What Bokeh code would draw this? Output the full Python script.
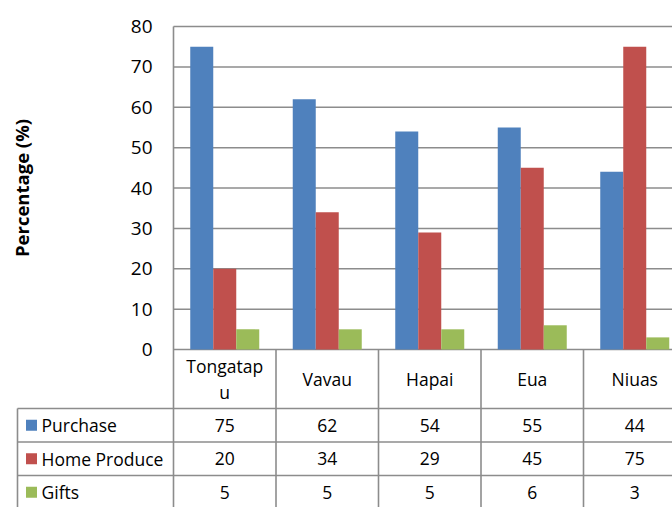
import math
from bokeh.plotting import figure
from bokeh.models import Range1d
from bokeh.embed import file_html
from bokeh.resources import INLINE
from bokeh.core.properties import value

# ---- data ----
regions = ["Tongatapu", "Vavau", "Hapai", "Eua", "Niuas"]
header_labels = ["Tongatap\nu", "Vavau", "Hapai", "Eua", "Niuas"]
series_names = ["Purchase", "Home Produce", "Gifts"]
purchase = [75, 62, 54, 55, 44]
home_produce = [20, 34, 29, 45, 75]
gifts = [5, 5, 5, 6, 3]
y_ticks = [0, 10, 20, 30, 40, 50, 60, 70, 80]
y_title = "Percentage (%)"

series_values = [purchase, home_produce, gifts]
colors = ["#4F81BD", "#C0504D", "#9BBB59"]

# ---- layout constants (pixels) ----
FONT = "Open Sans"
W, H = 672, 507
CHART_LEFT = 173      # left edge of plot area
CHART_TOP = 26        # pixel row of the top tick
BASE = 349            # pixel row of the zero line
CAT_PX = 102.5        # width of one category slot
BAR_PX = 23
LINE_COLOR = "#8c8c8c"
Y_MAX = 80

px_per_unit = (BASE - CHART_TOP) / Y_MAX
x_end = (W - CHART_LEFT) / CAT_PX
bar_w = BAR_PX / CAT_PX


def xp(px):
    """horizontal pixel -> data x"""
    return (px - CHART_LEFT) / CAT_PX


def yb(px):
    """pixels below the zero line -> data y"""
    return -px / px_per_unit


p = figure(width=W, height=H, title=None,
           x_range=Range1d(xp(0), x_end),
           y_range=Range1d(yb(H - BASE), Y_MAX + CHART_TOP / px_per_unit),
           output_backend="svg", toolbar_location=None,
           x_axis_location=None, y_axis_location=None, min_border=0)
p.outline_line_color = None
p.xgrid.visible = False
p.ygrid.visible = False
p.background_fill_color = "white"
p.border_fill_color = "white"

n = len(regions)

# horizontal gridlines (the top one closes the plot area)
p.segment(x0=[0] * len(y_ticks), x1=[x_end] * len(y_ticks), y0=y_ticks, y1=y_ticks,
          line_color=LINE_COLOR, line_width=1.5)

# value axis labels and title
p.text(x=[xp(152)] * len(y_ticks), y=y_ticks, text=[str(v) for v in y_ticks],
       text_align="right", text_baseline="middle",
       text_font=value(FONT), text_font_size="19px", text_color="black")
p.text(x=[xp(21)], y=[Y_MAX / 2], text=[y_title], angle=math.pi / 2,
       text_align="center", text_baseline="middle",
       text_font=value(FONT), text_font_style="bold",
       text_font_size="18.5px", text_color="black")

# bars
for k, (vals, col) in enumerate(zip(series_values, colors)):
    xs = [i + 0.5 + (k - 1) * bar_w for i in range(n)]
    p.vbar(x=xs, top=vals, bottom=0, width=bar_w,
           fill_color=col, line_color=None)

# ---- data table under the plot area ----
HEADER_H = 59
ROW_H = 33.5
LEGEND_LEFT = xp(17)
row_tops = [HEADER_H + r * ROW_H for r in range(len(series_names))]

# table rules
hx0 = [LEGEND_LEFT] * len(row_tops)
p.segment(x0=hx0, x1=[x_end] * len(row_tops),
          y0=[yb(v) for v in row_tops], y1=[yb(v) for v in row_tops],
          line_color=LINE_COLOR, line_width=1.6)
vx = list(range(n)) + [LEGEND_LEFT]
vy0 = [Y_MAX] + [0] * (n - 1) + [yb(HEADER_H)]
p.segment(x0=vx, x1=vx, y0=vy0, y1=[yb(H - BASE)] * len(vx),
          line_color=LINE_COLOR, line_width=1.6)

# header row: region names
p.text(x=[i + 0.5 for i in range(n)], y=[yb(HEADER_H / 2)] * n, text=header_labels,
       text_align="center", text_baseline="middle",
       text_font=value(FONT), text_font_size="17.5px", text_color="black",
       text_line_height=1.08)

# value rows with legend keys
for r, (name, vals, col) in enumerate(zip(series_names, series_values, colors)):
    yc = yb(row_tops[r] + ROW_H / 2)
    p.text(x=[i + 0.5 for i in range(n)], y=[yc] * n, text=[str(v) for v in vals],
           text_align="center", text_baseline="middle",
           text_font=value(FONT), text_font_size="17.5px", text_color="black")
    p.scatter(x=[xp(31)], y=[yc], marker="square", size=11,
              fill_color=col, line_color=None)
    p.text(x=[xp(41)], y=[yc], text=[name],
           text_align="left", text_baseline="middle",
           text_font=value(FONT), text_font_size="17.5px", text_color="black")

open("out.html", "w").write(file_html(p, INLINE))
